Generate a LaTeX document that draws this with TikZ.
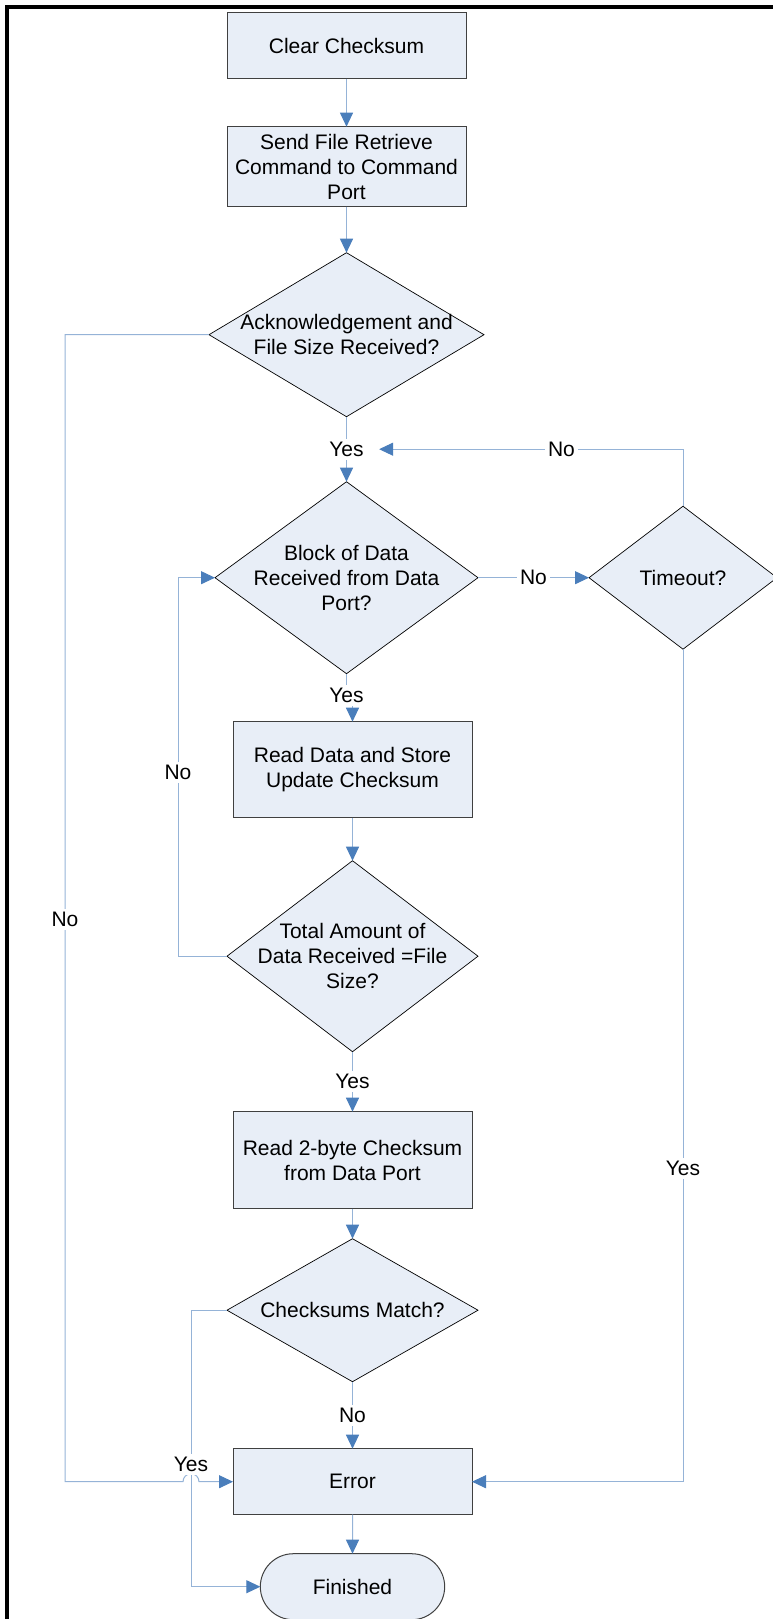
\documentclass[tikz,border=0pt]{standalone}
\usepackage{fontspec}
\setmainfont{Liberation Sans}
\usetikzlibrary{positioning,arrows.meta,shapes.geometric,shapes.misc,calc}
\definecolor{boxfill}{RGB}{232,238,247}
\definecolor{boxline}{RGB}{64,64,64}
\definecolor{flowline}{RGB}{149,179,215}
\definecolor{flowtip}{RGB}{74,126,187}

\begin{document}
\begin{tikzpicture}[x=1pt,y=1pt,
  font=\fontsize{21}{25}\selectfont,
  >={Triangle[length=14pt,width=13pt,color=flowtip]},
  proc/.style={rectangle,draw=boxline,line width=1pt,fill=boxfill,minimum width=239pt,align=center,inner sep=2pt,outer sep=0pt},
  dec/.style={diamond,draw=black,line width=0.7pt,fill=boxfill,align=center,inner sep=-60pt,outer sep=0pt},
  term/.style={rounded rectangle,draw=boxline,line width=1pt,fill=boxfill,minimum width=191pt,minimum height=66pt,outer sep=0pt},
  flow/.style={->,draw=flowline,line width=1pt},
  lbl/.style={fill=white,inner sep=3pt}]
\clip (0,0) rectangle (773,-1619);
\draw[line width=3.5pt] (7,-1630) |- (790,-7);

\node[proc,minimum height=66pt] (clear) at (346.5,-45.7) {Clear Checksum};
\node[proc,minimum height=80pt,below=48pt of clear] (send) {Send File Retrieve\\Command to Command\\Port};
\node[dec,minimum width=275pt,minimum height=164pt,below=46pt of send] (ack) {Acknowledgement and\\File Size Received?};
\node[dec,minimum width=263pt,minimum height=192pt,below=65pt of ack] (blk) {Block of Data\\Received from Data\\Port?};
\node[dec,minimum width=188pt,minimum height=143pt,right=111pt of blk] (tmo) {Timeout?};
\node[proc,minimum height=96pt,below=48pt of blk,xshift=6pt] (store) {Read Data and Store\\Update Checksum};
\node[dec,minimum width=251pt,minimum height=191pt,below=43pt of store] (total) {Total Amount of\\Data Received =File\\Size?};
\node[proc,minimum height=97pt,below=60pt of total] (rdsum) {Read 2-byte Checksum\\from Data Port};
\node[dec,minimum width=251pt,minimum height=143pt,below=30pt of rdsum] (match) {Checksums Match?};
\node[proc,minimum height=66pt,below=67pt of match] (err) {Error};
\node[term,below=39pt of err] (fin) {Finished};

\draw[flow] (clear) -- (send);
\draw[flow] (send) -- (ack);
\draw[flow] (ack) -- node[lbl] (yes1) {Yes} (blk);
\draw[flow] (tmo.north) |- node[lbl,pos=0.7]{No} ([xshift=12pt]yes1.east);
\draw[flow] (blk) -- node[lbl]{No} (tmo);
\draw[flow] (blk.south) -- ++(0,-22) node[lbl]{Yes} -| (store.north);
\draw[flow] (store) -- (total);
\draw[flow] (total.west) -- ++(-49,0) |- node[lbl,pos=0.243]{No} (blk.west);
\draw[flow] (total) -- node[lbl]{Yes} (rdsum);
\draw[flow] (rdsum) -- (match);
\draw[flow] (match) -- node[lbl]{No} (err);
\draw[flow] (err) -- (fin);
\draw[flow] (tmo.south) |- node[lbl,pos=0.312]{Yes} (err.east);
\coordinate (hop) at ($(err.west)+(-50,0)$);
\draw[flow] (ack.west) -- ++(-144,0) |- node[lbl,pos=0.255]{No} (hop) arc[start angle=180,end angle=0,radius=8] -- (err.west);
\draw[flow] (match.west) -- ++(-36,0) |- node[lbl,pos=0.279]{Yes} (fin.west);
\end{tikzpicture}
\end{document}
